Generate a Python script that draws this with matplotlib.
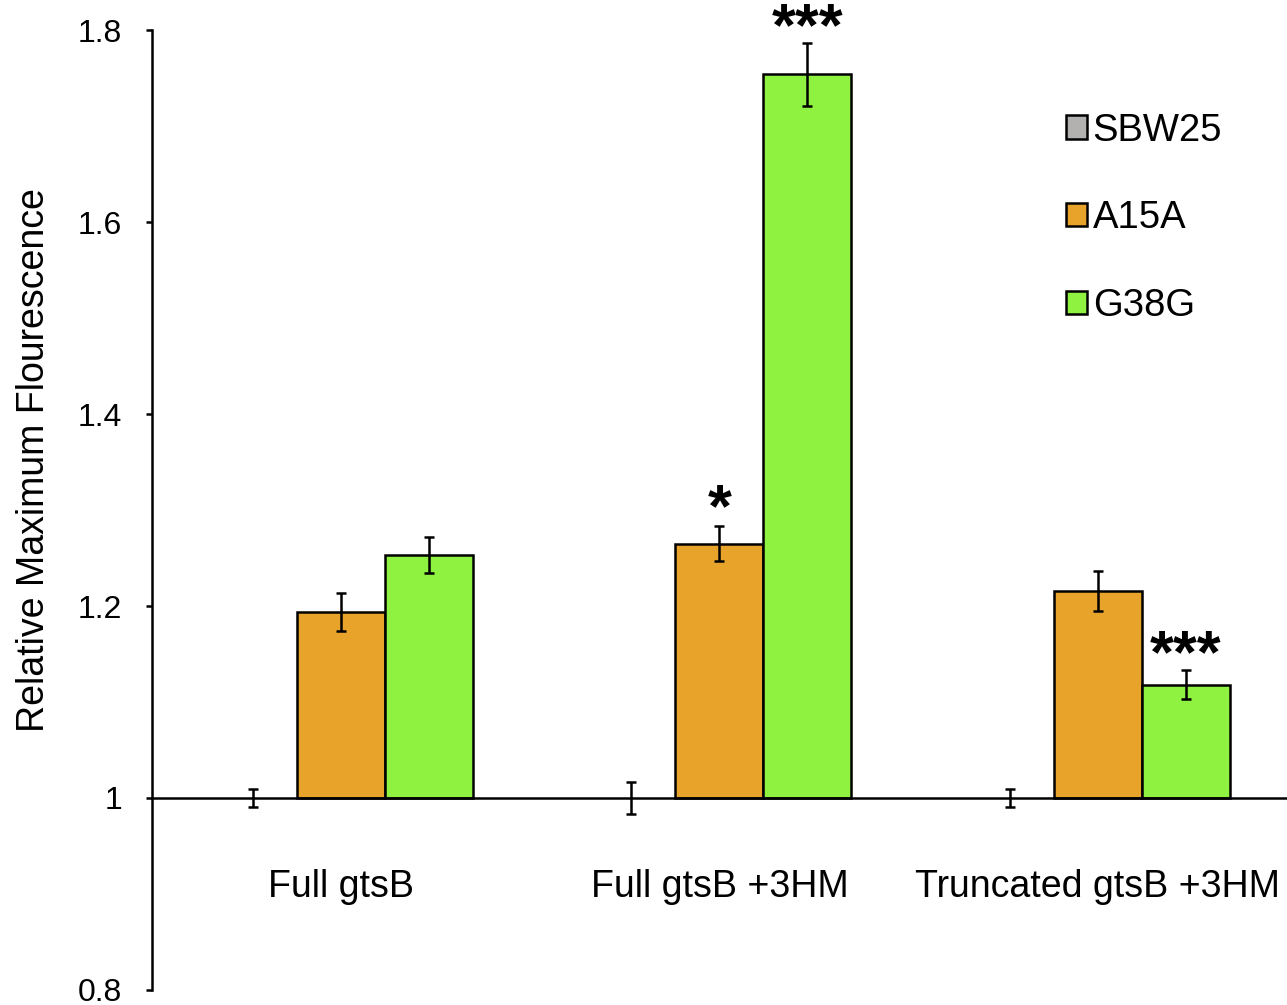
import matplotlib.pyplot as plt
import numpy as np
from matplotlib.patches import Patch

plt.rcParams['font.family'] = ['Liberation Sans', 'DejaVu Sans']

# Data
groups = ['Full gtsB', 'Full gtsB +3HM', 'Truncated gtsB +3HM']
strains = ['SBW25', 'A15A', 'G38G']
sbw25 = [1.0, 1.0, 1.0]
sbw25_err = [0.009, 0.017, 0.009]
a15a = [1.194, 1.265, 1.216]
a15a_err = [0.020, 0.018, 0.021]
g38g = [1.253, 1.754, 1.118]
g38g_err = [0.019, 0.033, 0.015]
a15a_sig = ['', '*', '']
g38g_sig = ['', '***', '***']

colors = ['#B3B0B0', '#E8A42A', '#90F240']

fig = plt.figure(figsize=(12.87, 10.05), dpi=100)
ax = fig.add_axes([0.118, 0.015, 0.882, 0.955])

x = np.arange(len(groups))
w = 1 / 4.3
base = 1.0
series = [(sbw25, sbw25_err), (a15a, a15a_err), (g38g, g38g_err)]
for i, (vals, errs) in enumerate(series):
    pos = x + (i - 1) * w
    heights = np.array(vals) - base
    ax.bar(pos, heights, w, bottom=base, color=colors[i], edgecolor='black',
           linewidth=1.8 if i > 0 else 0, zorder=2)
    ax.errorbar(pos, vals, yerr=errs, fmt='none', ecolor='black',
                elinewidth=1.8, capsize=3.3, capthick=1.8, zorder=3)

# significance stars
for i in range(len(groups)):
    if a15a_sig[i]:
        ax.text(x[i], a15a[i] + a15a_err[i] + 0.016, a15a_sig[i], ha='center',
                va='center', fontsize=44, fontweight='bold')
    if g38g_sig[i]:
        ax.text(x[i] + w, g38g[i] + g38g_err[i] + 0.014, g38g_sig[i], ha='center',
                va='center', fontsize=44, fontweight='bold')

ax.set_xlim(-0.5, 2.5)
ax.set_ylim(0.8, 1.8)
ax.set_yticks([0.8, 1.0, 1.2, 1.4, 1.6, 1.8])
ax.set_yticklabels(['0.8', '1', '1.2', '1.4', '1.6', '1.8'], fontsize=23)
ax.set_xticks([])
ax.spines['top'].set_visible(False)
ax.spines['right'].set_visible(False)
ax.spines['bottom'].set_position(('data', 1.0))
ax.spines['bottom'].set_linewidth(1.8)
ax.spines['left'].set_linewidth(1.8)
ax.tick_params(axis='y', direction='out', length=4.5, width=1.8, pad=17)
ax.set_ylabel('Relative Maximum Flourescence', fontsize=27)
ax.yaxis.set_label_coords(-0.088, 0.552)

for i, g in enumerate(groups):
    ax.text(x[i], 0.907, g, ha='center', va='center', fontsize=27)

handles = [Patch(facecolor=c, edgecolor='black', linewidth=1.8) for c in colors]
ax.legend(handles, strains, loc='upper left', bbox_to_anchor=(0.775, 0.95),
          frameon=False, fontsize=27.5, handlelength=0.55, handleheight=0.55,
          handletextpad=0.15, labelspacing=1.35)

fig.savefig('out.png', dpi=100)
